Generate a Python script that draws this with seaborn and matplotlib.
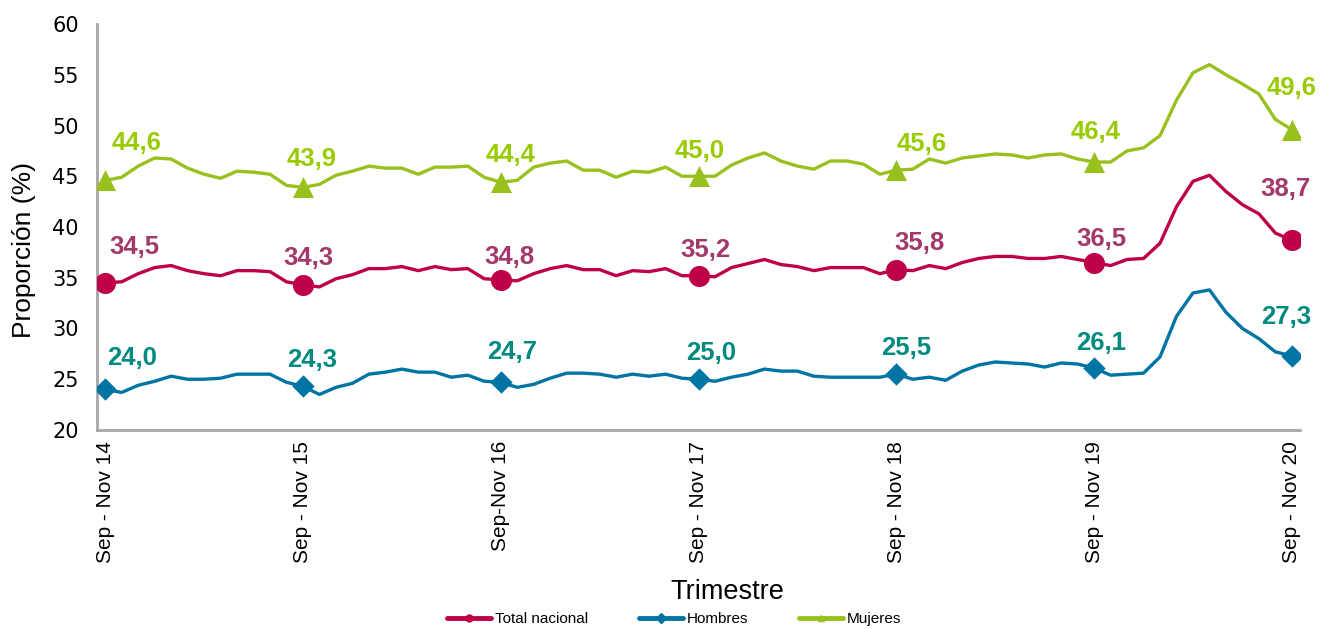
import numpy as np
import pandas as pd
import matplotlib
matplotlib.use('Agg')
import matplotlib.pyplot as plt
from matplotlib.lines import Line2D
import seaborn as sns

# ===============================
# DATOS (trimestres móviles, Sep-Nov 14 a Sep-Nov 20)
# ===============================

etiquetas_x = ['Sep - Nov 14', 'Sep - Nov 15', 'Sep-Nov 16', 'Sep - Nov 17',
               'Sep - Nov 18', 'Sep - Nov 19', 'Sep - Nov 20']

total_nacional = [34.5, 34.6, 35.4, 36.0, 36.2, 35.7, 35.4, 35.2, 35.7, 35.7, 35.6, 34.6,
                  34.3, 34.1, 34.9, 35.3, 35.9, 35.9, 36.1, 35.7, 36.1, 35.8, 35.9, 34.9,
                  34.8, 34.7, 35.4, 35.9, 36.2, 35.8, 35.8, 35.2, 35.7, 35.6, 35.9, 35.2,
                  35.2, 35.1, 36.0, 36.4, 36.8, 36.3, 36.1, 35.7, 36.0, 36.0, 36.0, 35.4,
                  35.8, 35.7, 36.2, 35.9, 36.5, 36.9, 37.1, 37.1, 36.9, 36.9, 37.1, 36.8,
                  36.5, 36.2, 36.8, 36.9, 38.4, 42.0, 44.5, 45.1, 43.5, 42.2, 41.3, 39.4,
                  38.7]

hombres = [24.0, 23.7, 24.4, 24.8, 25.3, 25.0, 25.0, 25.1, 25.5, 25.5, 25.5, 24.7,
           24.3, 23.5, 24.2, 24.6, 25.5, 25.7, 26.0, 25.7, 25.7, 25.2, 25.4, 24.8,
           24.7, 24.2, 24.5, 25.1, 25.6, 25.6, 25.5, 25.2, 25.5, 25.3, 25.5, 25.1,
           25.0, 24.8, 25.2, 25.5, 26.0, 25.8, 25.8, 25.3, 25.2, 25.2, 25.2, 25.2,
           25.5, 25.0, 25.2, 24.9, 25.8, 26.4, 26.7, 26.6, 26.5, 26.2, 26.6, 26.5,
           26.1, 25.4, 25.5, 25.6, 27.2, 31.2, 33.5, 33.8, 31.6, 30.0, 29.0, 27.7,
           27.3]

mujeres = [44.6, 44.9, 46.0, 46.8, 46.7, 45.8, 45.2, 44.8, 45.5, 45.4, 45.2, 44.1,
           43.9, 44.2, 45.1, 45.5, 46.0, 45.8, 45.8, 45.2, 45.9, 45.9, 46.0, 44.9,
           44.4, 44.6, 45.9, 46.3, 46.5, 45.6, 45.6, 44.9, 45.5, 45.4, 45.9, 45.0,
           45.0, 45.0, 46.1, 46.8, 47.3, 46.5, 46.0, 45.7, 46.5, 46.5, 46.2, 45.2,
           45.6, 45.7, 46.7, 46.3, 46.8, 47.0, 47.2, 47.1, 46.8, 47.1, 47.2, 46.7,
           46.4, 46.4, 47.5, 47.8, 49.0, 52.5, 55.2, 56.0, 55.0, 54.1, 53.1, 50.6,
           49.6]

# desplazamiento (pixeles) de cada etiqueta respecto a su marcador
desp_total = [(29, 36), (5, 27), (9, 23), (7, 26), (23, 27), (7, 24), (-6, 51)]
desp_hombres = [(27, 31), (9, 26), (11, 30), (13, 26), (10, 26), (7, 25), (-6, 39)]
desp_mujeres = [(31, 37), (9, 28), (10, 27), (1, 25), (25, 26), (1, 30), (0, 42)]

n = len(total_nacional)
df = pd.DataFrame({'x': np.arange(n),
                   'Total nacional': total_nacional,
                   'Hombres': hombres,
                   'Mujeres': mujeres})
pos_marcas = np.arange(0, n, 12)
df_marcas = df.iloc[pos_marcas]

series = [
    # nombre, color linea, color etiqueta, marcador, tamaño, desplazamientos
    ('Total nacional', '#BE0049', '#A2396A', 'o', 230, desp_total),
    ('Hombres', '#0074A2', '#008A80', 'D', 130, desp_hombres),
    ('Mujeres', '#99C11E', '#99CC00', '^', 230, desp_mujeres),
]

# ===============================
# GRAFICA
# ===============================

sns.set_style('white')
plt.rcParams['font.family'] = ['Liberation Sans', 'DejaVu Sans']
plt.rcParams['text.color'] = 'black'
plt.rcParams['axes.labelcolor'] = 'black'

fig = plt.figure(figsize=(13.28, 6.29), dpi=100)
ax = fig.add_axes([0.073, 0.3164, 0.906, 0.6454])

for nombre, color, color_lab, marca, tam, desp in series:
    sns.lineplot(data=df, x='x', y=nombre, ax=ax, color=color, linewidth=2.4)
    sns.scatterplot(data=df_marcas, x='x', y=nombre, ax=ax, color=color,
                    marker=marca, s=tam, edgecolor=color, linewidth=0, zorder=5)
    for k, i in enumerate(pos_marcas):
        v = df[nombre].iloc[i]
        ax.annotate(f'{v:.1f}'.replace('.', ','), (i, v),
                    xytext=desp[k], textcoords='offset pixels',
                    ha='center', va='center', fontsize=18.5,
                    fontweight='bold', color=color_lab)

ax.set_xlim(-0.5, n - 0.5)
ax.set_ylim(20, 60)
ax.set_yticks(range(20, 61, 5))
ax.set_yticklabels([str(t) for t in range(20, 61, 5)],
                   family='DejaVu Sans', fontsize=15)

# marcas del eje x en los limites de cada año, etiquetas en el centro
ax.set_xticks(pos_marcas)
ax.set_xticklabels(etiquetas_x, rotation=90, fontsize=15)
ax.set_xticks(np.arange(-0.5, n - 1, 12), minor=True)
ax.tick_params(axis='x', which='major', length=0, pad=8, labelcolor='black')
ax.tick_params(axis='x', which='minor', length=7, width=2, color='#A6A6A6')
ax.tick_params(axis='y', length=7, width=2, color='#A6A6A6', pad=6,
               labelcolor='black')

for lado in ['top', 'right']:
    ax.spines[lado].set_visible(False)
for lado in ['left', 'bottom']:
    ax.spines[lado].set_color('#A6A6A6')
    ax.spines[lado].set_linewidth(2)

ax.set_xlabel('Trimestre', fontsize=19.5, va='center')
ax.xaxis.set_label_coords(0.524, -0.399)
ax.set_ylabel('Proporción (%)', fontsize=19, va='center')
ax.yaxis.set_label_coords(-0.0607, 0.443)

manejadores = [Line2D([], [], color=c, lw=3.5, marker=m, markersize=5)
               for _, c, _, m, _, _ in series]
fig.legend(manejadores, [s[0] for s in series], loc='center',
           bbox_to_anchor=(0.5075, 0.016), ncol=3, frameon=False,
           fontsize=11, handlelength=2.9, handletextpad=0.25, columnspacing=3.3,
           labelcolor='black')

plt.savefig('out.png', dpi=100)
